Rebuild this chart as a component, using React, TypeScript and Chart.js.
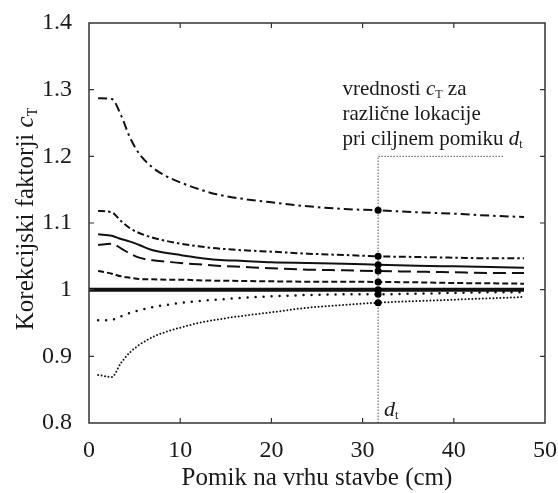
import React, { useEffect, useRef } from "react";
import { Chart, registerables } from "chart.js";

Chart.register(...registerables);

// ---- data ----
const X_VALUES = [1, 2.5, 3.5, 4.5, 5.5, 7, 8.5, 10, 12, 14, 17, 20, 24, 28, 31.7, 36, 40, 44, 47.7];
const SERIES_A = [1.287, 1.286, 1.262, 1.228, 1.204, 1.183, 1.17, 1.161, 1.151, 1.143, 1.136, 1.131, 1.125, 1.121, 1.119, 1.116, 1.114, 1.111, 1.109];
const SERIES_B = [1.118, 1.116, 1.103, 1.092, 1.085, 1.078, 1.073, 1.069, 1.065, 1.062, 1.059, 1.057, 1.054, 1.052, 1.05, 1.049, 1.048, 1.047, 1.047];
const SERIES_C = [1.083, 1.081, 1.076, 1.072, 1.067, 1.059, 1.055, 1.052, 1.048, 1.045, 1.043, 1.041, 1.04, 1.039, 1.0375, 1.036, 1.035, 1.034, 1.033];
const SERIES_D = [1.067, 1.069, 1.062, 1.054, 1.048, 1.044, 1.042, 1.04, 1.038, 1.036, 1.034, 1.032, 1.03, 1.029, 1.028, 1.027, 1.026, 1.025, 1.025];
const SERIES_E = [1.028, 1.024, 1.02, 1.018, 1.016, 1.0155, 1.015, 1.015, 1.014, 1.0135, 1.013, 1.0125, 1.012, 1.012, 1.0115, 1.011, 1.01, 1.0095, 1.009];
const SERIES_G = [0.954, 0.955, 0.96, 0.965, 0.969, 0.974, 0.977, 0.98, 0.983, 0.985, 0.988, 0.99, 0.992, 0.993, 0.993, 0.994, 0.995, 0.996, 0.996];
const SERIES_H = [0.872, 0.869, 0.89, 0.906, 0.917, 0.929, 0.937, 0.943, 0.95, 0.955, 0.961, 0.966, 0.973, 0.977, 0.9805, 0.983, 0.985, 0.987, 0.989];

// reference line c_T = 1 (thick), from the axis to the last point
const REF_X = [0, 31.7, 47.7];
const REF_Y = [1, 1, 1];

const DT = 31.7; // target displacement d_t
const GUIDE_TOP = 1.2;
const GUIDE_END = 45.4;

const X_MIN = 0;
const X_MAX = 50;
const Y_MIN = 0.8;
const Y_MAX = 1.4;
const X_TICKS = [0, 10, 20, 30, 40, 50];
const Y_TICKS = [0.8, 0.9, 1.0, 1.1, 1.2, 1.3, 1.4];

const X_TITLE = "Pomik na vrhu stavbe (cm)";
const Y_TITLE = "Korekcijski faktorji ";
const NOTE_LINE1 = "vrednosti ";
const NOTE_LINE1_END = " za";
const NOTE_LINE2 = "različne lokacije";
const NOTE_LINE3 = "pri ciljnem pomiku ";
const NOTE_X = 27.8;
const NOTE_Y = 1.292;

const SERIF = "'Liberation Serif', 'Times New Roman', serif";

type Seg = { t: string; f: string; dy?: number };

function drawRich(ctx: CanvasRenderingContext2D, segs: Seg[], x: number, y: number, align: "left" | "center") {
  let total = 0;
  const widths = segs.map((s) => {
    ctx.font = s.f;
    const w = ctx.measureText(s.t).width;
    total += w;
    return w;
  });
  let cx = align === "center" ? x - total / 2 : x;
  ctx.textAlign = "left";
  ctx.textBaseline = "alphabetic";
  segs.forEach((s, i) => {
    ctx.font = s.f;
    ctx.fillText(s.t, cx, y + (s.dy || 0));
    cx += widths[i];
  });
}

const decorPlugin = {
  id: "decor",
  afterDraw(chart: any) {
    const ctx: CanvasRenderingContext2D = chart.ctx;
    const { left, right, top, bottom } = chart.chartArea;
    const xs = chart.scales.x;
    const ys = chart.scales.y;
    ctx.save();
    // frame
    ctx.strokeStyle = "#333";
    ctx.lineWidth = 1.5;
    ctx.strokeRect(left, top, right - left, bottom - top);
    // inward ticks
    ctx.lineWidth = 1.2;
    ctx.beginPath();
    X_TICKS.filter((v) => v > X_MIN && v < X_MAX).forEach((v) => {
      const p = xs.getPixelForValue(v);
      ctx.moveTo(p, bottom);
      ctx.lineTo(p, bottom - 5);
      ctx.moveTo(p, top);
      ctx.lineTo(p, top + 5);
    });
    Y_TICKS.filter((v) => v > Y_MIN + 1e-9 && v < Y_MAX - 1e-9).forEach((v) => {
      const p = ys.getPixelForValue(v);
      ctx.moveTo(left, p);
      ctx.lineTo(left + 5, p);
      ctx.moveTo(right, p);
      ctx.lineTo(right - 5, p);
    });
    ctx.stroke();

    ctx.fillStyle = "#1a1a1a";
    // x title
    drawRich(ctx, [{ t: X_TITLE, f: `25px ${SERIF}` }], (left + right) / 2, 485, "center");
    // y title
    ctx.save();
    ctx.translate(33, (top + bottom) / 2 - 4);
    ctx.rotate(-Math.PI / 2);
    drawRich(
      ctx,
      [
        { t: Y_TITLE, f: `25px ${SERIF}` },
        { t: "c", f: `italic 25px ${SERIF}` },
        { t: "T", f: `14px ${SERIF}`, dy: 4 },
      ],
      0,
      0,
      "center"
    );
    ctx.restore();

    // annotation
    const nx = xs.getPixelForValue(NOTE_X);
    const ny = ys.getPixelForValue(NOTE_Y);
    const nf = `21px ${SERIF}`;
    drawRich(
      ctx,
      [
        { t: NOTE_LINE1, f: nf },
        { t: "c", f: `italic 21px ${SERIF}` },
        { t: "T", f: `12px ${SERIF}`, dy: 3 },
        { t: NOTE_LINE1_END, f: nf },
      ],
      nx,
      ny,
      "left"
    );
    drawRich(ctx, [{ t: NOTE_LINE2, f: nf }], nx, ny + 25, "left");
    drawRich(
      ctx,
      [
        { t: NOTE_LINE3, f: nf },
        { t: "d", f: `italic 21px ${SERIF}` },
        { t: "t", f: `12px ${SERIF}`, dy: 3 },
      ],
      nx,
      ny + 50,
      "left"
    );
    // d_t label
    drawRich(
      ctx,
      [
        { t: "d", f: `italic 22px ${SERIF}` },
        { t: "t", f: `12px ${SERIF}`, dy: 3 },
      ],
      xs.getPixelForValue(DT) + 6,
      bottom - 7,
      "left"
    );
    ctx.restore();
  },
};

function pts(xv: number[], yv: number[]) {
  return xv.map((x, i) => ({ x, y: yv[i] }));
}

function lineDs(xv: number[], yv: number[], width: number, dash: number[], cap: CanvasLineCap = "butt") {
  return {
    data: pts(xv, yv),
    borderColor: "#111",
    borderWidth: width,
    borderDash: dash,
    borderCapStyle: cap,
    cubicInterpolationMode: "monotone" as const,
    pointRadius: (c: any) => (c.raw && c.raw.x === DT ? 3.5 : 0),
    pointBackgroundColor: "#000",
    pointBorderWidth: 0,
    fill: false,
  };
}

export default function App() {
  const ref = useRef<HTMLCanvasElement>(null);
  useEffect(() => {
    if (!ref.current) return;
    const chart = new Chart(ref.current, {
      type: "line",
      data: {
        datasets: [
          lineDs(X_VALUES, SERIES_A, 2, [9, 4, 2.5, 4]),
          lineDs(X_VALUES, SERIES_B, 2, [7, 3, 2.5, 3]),
          lineDs(X_VALUES, SERIES_C, 2, []),
          lineDs(X_VALUES, SERIES_D, 2, [13, 6]),
          lineDs(X_VALUES, SERIES_E, 2, [6, 3]),
          lineDs(REF_X, REF_Y, 4, []),
          lineDs(X_VALUES, SERIES_G, 2.5, [0, 8], "round"),
          lineDs(X_VALUES, SERIES_H, 2, [0, 3.5], "round"),
          {
            data: [
              { x: DT, y: Y_MIN },
              { x: DT, y: GUIDE_TOP },
              { x: GUIDE_END, y: GUIDE_TOP },
            ],
            borderColor: "#555",
            borderWidth: 1,
            borderDash: [1.5, 1.5],
            pointRadius: 0,
            fill: false,
          },
        ] as any,
      },
      options: {
        responsive: false,
        devicePixelRatio: 1,
        animation: false,
        layout: { padding: { top: 23, right: 13, left: 0, bottom: 0 } },
        plugins: { legend: { display: false }, tooltip: { enabled: false } },
        scales: {
          x: {
            type: "linear",
            min: X_MIN,
            max: X_MAX,
            afterBuildTicks: (s: any) => {
              s.ticks = X_TICKS.map((v) => ({ value: v }));
            },
            ticks: {
              font: { family: SERIF, size: 24 },
              color: "#1a1a1a",
              padding: 5,
              maxRotation: 0,
              callback: (v: any) => String(v),
            },
            grid: { display: false },
            border: { display: false },
            afterFit: (s: any) => {
              s.height = 70;
              s.paddingLeft = 0;
              s.paddingRight = 0;
            },
          },
          y: {
            type: "linear",
            min: Y_MIN,
            max: Y_MAX,
            afterBuildTicks: (s: any) => {
              s.ticks = Y_TICKS.map((v) => ({ value: v }));
            },
            ticks: {
              font: { family: SERIF, size: 24 },
              color: "#1a1a1a",
              padding: 9,
              callback: (v: any) => String(Math.round(Number(v) * 10) / 10),
            },
            grid: { display: false },
            border: { display: false },
            afterFit: (s: any) => {
              s.width = 89;
              s.paddingTop = 0;
              s.paddingBottom = 0;
            },
          },
        },
      },
      plugins: [decorPlugin],
    });
    return () => chart.destroy();
  }, []);
  return (
    <div style={{ position: "absolute", left: 0, top: 0, width: 558, height: 493, background: "#fff" }}>
      <canvas ref={ref} width={558} height={493} style={{ display: "block" }} />
    </div>
  );
}
